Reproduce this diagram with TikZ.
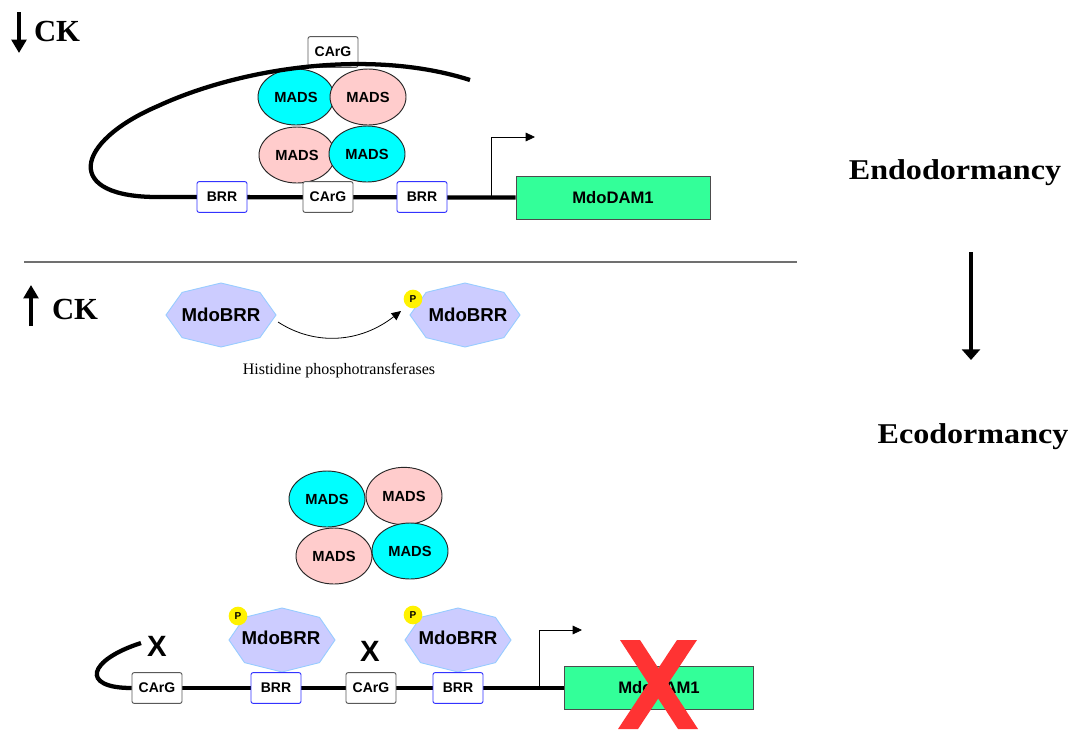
\documentclass[tikz,border=0pt]{standalone}
\usepackage{fontspec}
\setmainfont{Liberation Serif}
\setsansfont{Liberation Sans}
\usetikzlibrary{arrows.meta,shapes.geometric}
\pgfdeclarelayer{bg}
\pgfsetlayers{bg,main}
\definecolor{madscyan}{HTML}{00FFFF}
\definecolor{madspink}{HTML}{FFCCCC}
\definecolor{brrfill}{HTML}{CCCCFF}
\definecolor{brredge}{HTML}{99CCFF}
\definecolor{damgreen}{HTML}{33FF99}
\definecolor{xred}{HTML}{FF3333}
\definecolor{boxblue}{HTML}{3333FF}
\definecolor{sepgray}{HTML}{707070}
\newcommand\octagon[4]{%
  \draw[octa] ({#1+#3},{#2}) -- ({#1+0.707*#3},{#2-0.707*#4}) -- ({#1},{#2-#4})
    -- ({#1-0.707*#3},{#2-0.707*#4}) -- ({#1-#3},{#2}) -- ({#1-0.707*#3},{#2+0.707*#4})
    -- ({#1},{#2+#4}) -- ({#1+0.707*#3},{#2+0.707*#4}) -- cycle;}
\begin{document}
\begin{tikzpicture}[x=0.75pt,y=-0.75pt,
  mads/.style={ellipse, draw=black!85, line width=0.7pt, inner sep=0pt,
    minimum width=57pt, minimum height=42pt,
    font=\sffamily\bfseries\fontsize{11}{13}\selectfont},
  madsc/.style={mads, fill=madscyan},
  madsp/.style={mads, fill=madspink},
  cargbox/.style={draw=black!65, fill=white, rounded corners=1.5pt, line width=0.7pt,
    minimum width=37.5pt, minimum height=23pt, inner sep=0pt,
    font=\sffamily\bfseries\fontsize{10.5}{12}\selectfont},
  brrbox/.style={cargbox, draw=boxblue},
  dam/.style={draw=black!70, fill=damgreen, line width=0.7pt, inner sep=0pt,
    minimum height=32.25pt, font=\sffamily\bfseries\fontsize{12.5}{14}\selectfont},
  dna/.style={line width=3.2pt},
  octa/.style={fill=brrfill, draw=brredge, line width=0.7pt},
  brrlabel/.style={font=\sffamily\bfseries\fontsize{14}{16}\selectfont, inner sep=0pt},
  pcirc/.style={circle, fill=yellow, minimum size=14pt, inner sep=0pt,
    font=\sffamily\bfseries\fontsize{7.5}{8}\selectfont},
  ckstyle/.style={font=\bfseries\fontsize{23}{26}\selectfont, inner sep=0pt},
  phase/.style={font=\bfseries\fontsize{21.5}{24}\selectfont, inner sep=0pt},
  xmark/.style={font=\sffamily\bfseries\fontsize{22}{24}\selectfont, inner sep=0pt},
  tip/.style={-{Triangle[length=7pt,width=6.5pt]}, line width=0.6pt},
  bigtip/.style={-{Triangle[length=10pt,width=11pt]}, line width=2.8pt},
]
\useasboundingbox (0,0) rectangle (1077,729);

% ---------------- top panel ----------------
\node[ckstyle] (ck1) at (57,31) {CK};
\coordinate (ck1a) at (19,12);
\coordinate (ck1b) at (19,53);
\draw[bigtip] (ck1a) -- (ck1b);

\node[madsc] (m1) at (296,97) {MADS};
\node[madsp] (m2) at (368,97) {MADS};
\node[madsp] (m3) at (297,155) {MADS};
\node[madsc] (m4) at (367,154) {MADS};

\node[cargbox] (ctop) at (333,52) {CArG};
\node[brrbox] (r1) at (222,197) {BRR};
\node[cargbox] (c1) at (328,197) {CArG};
\node[brrbox] (r2) at (422,197) {BRR};
\node[dam, minimum width=145.5pt] (dam1) at (613,197.5) {MdoDAM1};

\coordinate (loopA) at (160,197);
\coordinate (loopB) at (158,106);
\coordinate (loopC) at (470,80);
\coordinate (prom1) at (491,197);
\coordinate (prom1a) at (491,137);
\coordinate (prom1b) at (535,137);
\begin{pgfonlayer}{bg}
  \draw[dna] (loopA) -- (dam1.west);
  \draw[line width=0.6pt] (prom1) -- (prom1a);
\end{pgfonlayer}
\draw[dna] (loopA) .. controls (62,198) and (74,142) .. (loopB)
  .. controls (240,68) and (370,48) .. (loopC);
\draw[tip] (prom1a) -- (prom1b);

\node[phase] (endo) at (955,173) {\scalebox{1.12}[1]{Endodormancy}};
\coordinate (pa) at (971,252);
\coordinate (pb) at (971,360);
\draw[-{Triangle[length=8pt,width=13.5pt]}, line width=3pt] (pa) -- (pb);
\node[phase] (eco) at (973,437) {\scalebox{1.12}[1]{Ecodormancy}};

% separator
\coordinate (sepL) at (24,262);
\coordinate (sepR) at (797,262);
\draw[sepgray, line width=1.3pt] (sepL) -- (sepR);

% ---------------- middle ----------------
\coordinate (ck2a) at (31,326);
\coordinate (ck2b) at (31,285);
\draw[bigtip] (ck2a) -- (ck2b);
\node[ckstyle] (ck2) at (75,309) {CK};

\octagon{221}{315}{55}{32}
\node[brrlabel] (b1) at (221,315) {MdoBRR};
\octagon{465}{315}{55}{32}
\node[brrlabel] (b2) at (468,315) {MdoBRR};
\node[pcirc] (p0) at (413,299) {P};
\coordinate (curveS) at (278,322);
\coordinate (curveE) at (401,311);
\draw[tip] (curveS) .. controls (315,346) and (360,343) .. (curveE);
\node[font=\fontsize{12}{14}\selectfont, inner sep=0pt] (hist) at (339,371) {Histidine phosphotransferases};

% ---------------- bottom ----------------
\node[madsc] (n1) at (327,499) {MADS};
\node[madsp, minimum height=43pt] (n2) at (404,496) {MADS};
\node[madsp] (n3) at (334,556) {MADS};
\node[madsc] (n4) at (410,551) {MADS};

\octagon{282}{640}{53}{32}
\node[brrlabel] (b3) at (281,638) {MdoBRR};
\octagon{458}{640}{53}{32}
\node[brrlabel] (b4) at (458,638) {MdoBRR};
\node[pcirc] (p1) at (238,616) {P};
\node[pcirc] (p2) at (413,615) {P};

\node[cargbox] (c3) at (157,688) {CArG};
\node[brrbox] (r3) at (276,688) {BRR};
\node[cargbox] (c4) at (371,688) {CArG};
\node[brrbox] (r4) at (458,688) {BRR};
\node[dam, minimum width=141.75pt] (dam2) at (659,688) {MdoDAM1};

\node[xmark] (x1) at (157,646) {X};
\node[xmark] (x2) at (370,651) {X};

\coordinate (hookE) at (141,643);
\coordinate (prom2) at (539,688);
\coordinate (prom2a) at (539,630);
\coordinate (prom2b) at (582,630);
\begin{pgfonlayer}{bg}
  \draw[dna] (c3.west) -- (dam2.west);
  \draw[line width=0.6pt] (prom2) -- (prom2a);
\end{pgfonlayer}
\draw[dna] (c3.west) .. controls (80,688) and (88,660) .. (hookE);
\draw[tip] (prom2a) -- (prom2b);

% red cross
\fill[xred] (620,640) -- (640,640) -- (698,729) -- (678,729) -- cycle;
\fill[xred] (677,640) -- (697,640) -- (638,729) -- (618,729) -- cycle;
\end{tikzpicture}
\end{document}
